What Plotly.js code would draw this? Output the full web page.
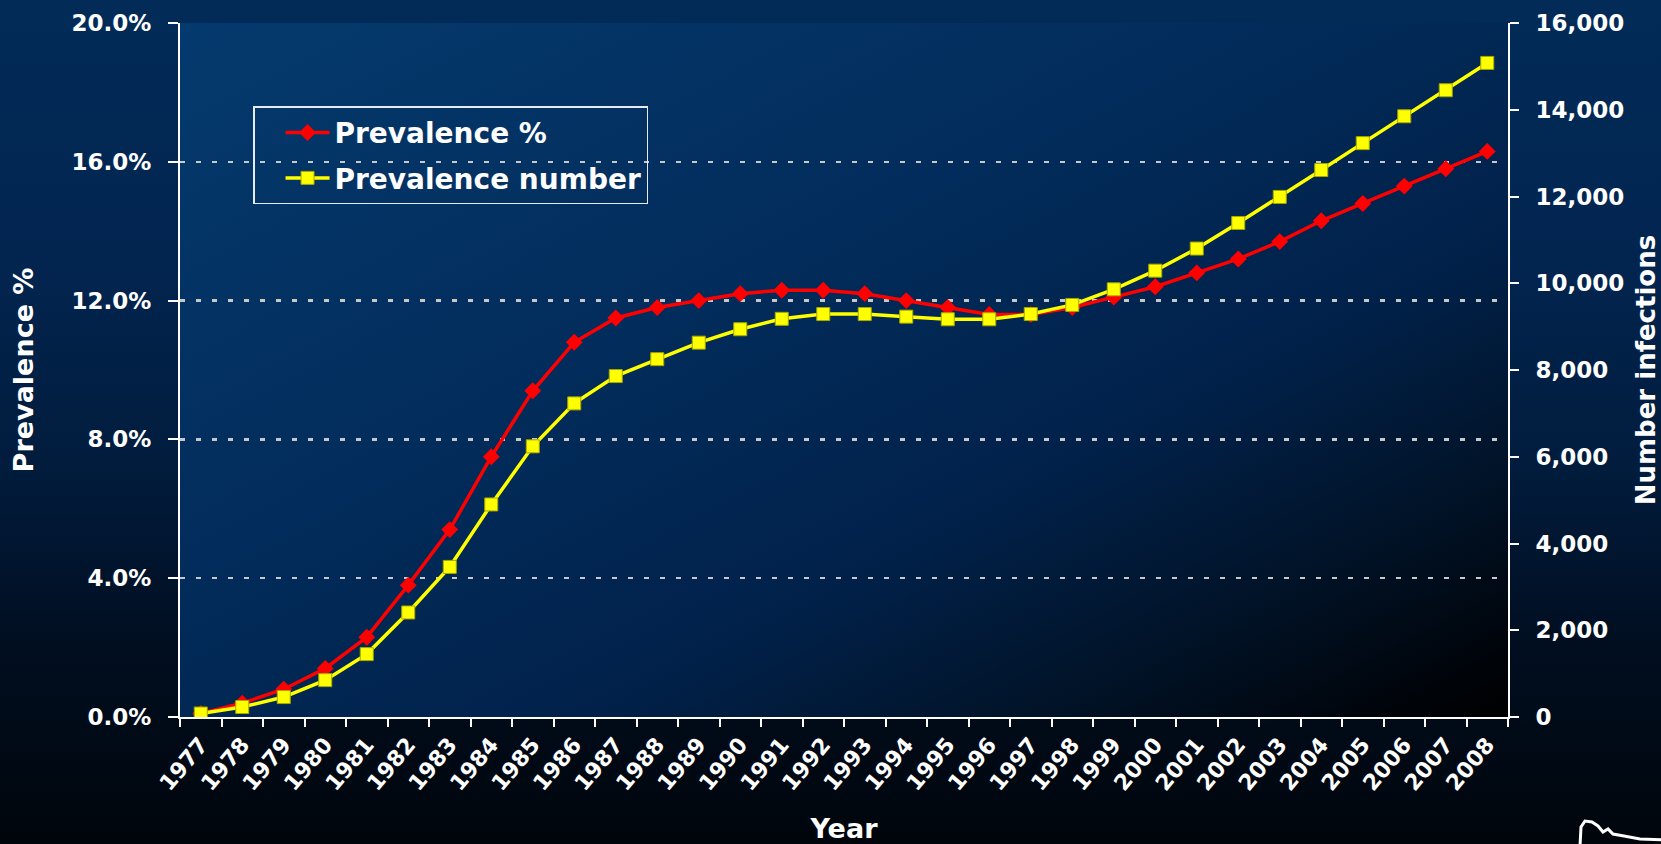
<!DOCTYPE html>
<html>
<head>
<meta charset="utf-8">
<script src="https://cdn.plot.ly/plotly-3.0.1.min.js"></script>
<style>
  html, body { margin: 0; padding: 0; }
  body {
    width: 1661px; height: 844px; overflow: hidden;
    background: linear-gradient(to bottom, #022b58 0%, #022550 30%, #011c3d 55%, #010f22 75%, #00050b 100%);
  }
  #chart { width: 1661px; height: 844px; }
</style>
</head>
<body>
<div id="chart"></div>
<script>
// Years on the category axis
const years = ['1977','1978','1979','1980','1981','1982','1983','1984','1985','1986',
               '1987','1988','1989','1990','1991','1992','1993','1994','1995','1996',
               '1997','1998','1999','2000','2001','2002','2003','2004','2005','2006',
               '2007','2008'];

// Prevalence, percent (left axis)
const prevalencePct = [0.1, 0.4, 0.8, 1.4, 2.3, 3.8, 5.4, 7.5, 9.4, 10.8,
                       11.5, 11.8, 12.0, 12.2, 12.3, 12.3, 12.2, 12.0, 11.8, 11.6,
                       11.6, 11.8, 12.1, 12.4, 12.8, 13.2, 13.7, 14.3, 14.8, 15.3,
                       15.8, 16.3];

// Number of prevalent infections (right axis)
const prevalenceNum = [80, 230, 460, 850, 1450, 2410, 3460, 4900, 6240, 7230,
                       7860, 8250, 8630, 8940, 9180, 9290, 9290, 9230, 9170, 9170,
                       9290, 9500, 9860, 10290, 10800, 11390, 11990, 12610, 13230, 13850,
                       14450, 15080];

const seriesNames = ['Prevalence %', 'Prevalence number'];

const FONT = 'DejaVu Sans, Verdana, sans-serif';
const W = 1661, H = 844;
const M = { l: 180, r: 153, t: 23, b: 127 };

// Diagonal shading for the plotting area
const plotShade = 'data:image/svg+xml;utf8,' + encodeURIComponent(
  '<svg xmlns="http://www.w3.org/2000/svg" width="200" height="100" viewBox="0 0 200 100" preserveAspectRatio="none">' +
  '<defs><linearGradient id="g" x1="0" y1="0" x2="1" y2="1">' +
  '<stop offset="0" stop-color="#053a6e"/>' +
  '<stop offset="0.4" stop-color="#022c5b"/>' +
  '<stop offset="0.65" stop-color="#01214a"/>' +
  '<stop offset="0.82" stop-color="#011328"/>' +
  '<stop offset="0.94" stop-color="#00050c"/>' +
  '<stop offset="1" stop-color="#000000"/>' +
  '</linearGradient></defs>' +
  '<rect x="0" y="0" width="200" height="100" fill="url(#g)"/></svg>');

// Small corner emblem outline, given in page pixels and mapped to paper space
const px = (x) => (x - M.l) / (W - M.l - M.r);
const py = (y) => (H - M.b - y) / (H - M.t - M.b);
const emblemPts = [[1580,846],[1581,827],[1585,821],[1592,822],[1598,826],[1603,832],
                   [1608,829],[1613,834],[1624,836],[1640,839],[1664,840]];
const emblemPath = emblemPts.map((p, i) => (i ? 'L' : 'M') + px(p[0]).toFixed(5) + ',' + py(p[1]).toFixed(5)).join(' ');

const traces = [
  {
    x: years, y: prevalencePct, name: seriesNames[0],
    type: 'scatter', mode: 'lines+markers',
    yaxis: 'y', legendgroup: 'a',
    line: { color: '#ff0000', width: 3.5 },
    marker: { symbol: 'diamond', size: 13, color: '#ff0000', line: { width: 0 } }
  },
  {
    x: years, y: prevalenceNum, name: seriesNames[1],
    type: 'scatter', mode: 'lines+markers',
    yaxis: 'y2', legendgroup: 'b',
    line: { color: '#ffff00', width: 3.5 },
    marker: { symbol: 'square', size: 13, color: '#ffff00', line: { width: 1, color: '#a8a800' } }
  }
];

const layout = {
  width: W, height: H,
  margin: { l: M.l, r: M.r, t: M.t, b: M.b, pad: 0 },
  paper_bgcolor: 'rgba(0,0,0,0)',
  plot_bgcolor: 'rgba(0,0,0,0)',
  font: { family: FONT, color: '#ffffff', weight: 'bold', size: 22 },
  showlegend: true,
  legend: {
    x: 0.055, y: 0.88, xanchor: 'left', yanchor: 'top',
    bgcolor: 'rgba(0,0,0,0)', bordercolor: '#e6ebf2', borderwidth: 1.5,
    font: { family: FONT, size: 28, color: '#ffffff', weight: 'bold' },
    tracegroupgap: 6, itemwidth: 44, indentation: 26
  },
  images: [{
    source: plotShade, xref: 'paper', yref: 'paper',
    x: 0, y: 1, sizex: 1, sizey: 1, xanchor: 'left', yanchor: 'top',
    sizing: 'stretch', layer: 'below'
  }],
  shapes: [{
    type: 'path', xref: 'paper', yref: 'paper', path: emblemPath,
    line: { color: '#ffffff', width: 3 }, fillcolor: 'rgba(0,0,0,0)'
  }],
  xaxis: {
    type: 'category', range: [-0.5, years.length - 0.5],
    title: { text: 'Year', font: { family: FONT, size: 27, weight: 'bold', color: '#ffffff' }, standoff: 30 },
    tickangle: -50,
    tickfont: { family: FONT, size: 22, weight: 'bold', color: '#ffffff' },
    tickson: 'boundaries', ticks: 'outside', ticklen: 8, tickwidth: 2, tickcolor: '#ffffff',
    ticklabelstandoff: 4,
    showline: true, linecolor: '#ffffff', linewidth: 2,
    showgrid: false, zeroline: false, automargin: false
  },
  yaxis: {
    range: [0, 20], dtick: 4, tick0: 0,
    tickformat: '.1f', ticksuffix: '%',
    title: { text: 'Prevalence %', font: { family: FONT, size: 27, weight: 'bold', color: '#ffffff' }, standoff: 30 },
    tickfont: { family: FONT, size: 23, weight: 'bold', color: '#ffffff' },
    ticks: 'outside', ticklen: 10, tickwidth: 2, tickcolor: '#ffffff',
    ticklabelstandoff: 12,
    showline: true, linecolor: '#ffffff', linewidth: 2,
    showgrid: true, gridcolor: '#c8c8c8', gridwidth: 2.5, griddash: '5px,11px',
    zeroline: false, automargin: false
  },
  yaxis2: {
    overlaying: 'y', side: 'right', anchor: 'x',
    range: [0, 16000], dtick: 2000, tick0: 0,
    tickformat: ',d',
    title: { text: 'Number infections', font: { family: FONT, size: 26, weight: 'bold', color: '#ffffff' }, standoff: 14 },
    tickfont: { family: FONT, size: 23, weight: 'bold', color: '#ffffff' },
    ticks: 'outside', ticklen: 9, tickwidth: 2, tickcolor: '#ffffff',
    ticklabelstandoff: 12,
    showline: true, linecolor: '#ffffff', linewidth: 2,
    showgrid: false, zeroline: false, automargin: false
  },
  // inner half of the crossing tick marks on the right axis
  yaxis3: {
    overlaying: 'y', side: 'right', anchor: 'x',
    range: [0, 16000], dtick: 2000, tick0: 0,
    ticks: 'inside', ticklen: 9, tickwidth: 2, tickcolor: '#ffffff',
    showticklabels: false, showline: false, showgrid: false, zeroline: false
  }
};

Plotly.newPlot('chart', traces, layout, { displayModeBar: false, staticPlot: true });
</script>
</body>
</html>
